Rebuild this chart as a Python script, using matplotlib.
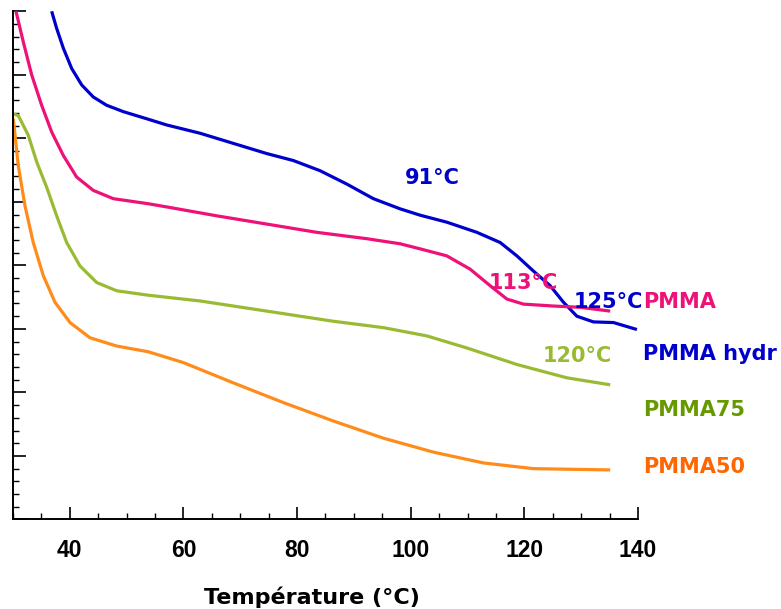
import matplotlib.pyplot as plt
from matplotlib.ticker import MultipleLocator, NullFormatter

# courbes lues en fonction de la température (°C)
t_hydr = [36.81, 37.69, 38.86, 40.33, 42.10, 44.14, 46.50, 49.42, 53.82, 57.06, 62.92,
          68.79, 74.67, 79.35, 84.05, 88.75, 93.43, 98.13, 101.65, 106.35, 111.64,
          115.74, 118.68, 121.60, 124.54, 126.88, 129.24, 132.16, 135.69, 139.81]
y_hydr = [8.00, 7.73, 7.42, 7.10, 6.84, 6.65, 6.52, 6.42, 6.30, 6.21, 6.08,
          5.92, 5.76, 5.65, 5.49, 5.28, 5.05, 4.89, 4.79, 4.68, 4.52,
          4.36, 4.15, 3.91, 3.68, 3.42, 3.20, 3.11, 3.10, 2.99]

t_pmma = [30.53, 31.81, 33.29, 35.05, 36.81, 38.86, 41.21, 44.14, 47.66, 53.82, 57.06,
          65.86, 74.67, 83.47, 92.27, 98.13, 101.65, 106.35, 110.46, 113.98, 116.92,
          119.84, 125.12, 129.82, 135.11]
y_pmma = [8.00, 7.52, 7.00, 6.52, 6.10, 5.73, 5.39, 5.18, 5.05, 4.97, 4.92,
          4.78, 4.65, 4.52, 4.42, 4.34, 4.26, 4.15, 3.94, 3.68, 3.47,
          3.39, 3.36, 3.34, 3.28]

t_p75 = [29.80, 30.93, 32.69, 34.17, 35.93, 37.69, 39.45, 41.80, 44.74, 48.26, 53.82,
         62.92, 74.67, 86.39, 95.19, 102.83, 109.88, 118.68, 127.48, 135.11]
y_p75 = [6.39, 6.36, 6.05, 5.63, 5.23, 4.78, 4.36, 3.99, 3.73, 3.60, 3.53,
         3.44, 3.28, 3.12, 3.02, 2.89, 2.70, 2.44, 2.23, 2.12]

t_p50 = [30.05, 30.18, 30.93, 32.11, 33.57, 35.33, 37.39, 40.04, 43.56, 48.26, 53.82,
         59.98, 68.79, 77.59, 86.39, 95.19, 103.99, 112.80, 121.60, 135.11]
y_p50 = [6.31, 6.21, 5.57, 4.94, 4.36, 3.84, 3.42, 3.10, 2.86, 2.73, 2.64,
         2.47, 2.15, 1.84, 1.55, 1.28, 1.06, 0.89, 0.80, 0.78]

# transitions vitreuses annotées
tg_labels = ["91°C", "113°C", "125°C", "120°C"]
tg_pos = [(103.8, 5.37), (119.8, 3.72), (134.8, 3.42), (129.3, 2.58)]

names = ["PMMA", "PMMA hydr", "PMMA75", "PMMA50"]
name_y = [3.42, 2.61, 1.72, 0.82]

c_blue = "#0000cc"
c_pink = "#ee1177"
c_green = "#99bb33"
c_orange = "#ff8c1a"

fig = plt.figure(figsize=(7.81, 6.09), dpi=100)
ax = fig.add_axes([0.0166, 0.1470, 0.8003, 0.8345])

lw = 2.3
for t, y, c in [(t_hydr, y_hydr, c_blue), (t_pmma, y_pmma, c_pink),
                (t_p75, y_p75, c_green), (t_p50, y_p50, c_orange)]:
    ax.plot(t, y, color=c, lw=lw, solid_capstyle="butt", solid_joinstyle="round")

ax.set_xlim(30, 140)
ax.set_ylim(0, 8)
ax.spines["top"].set_visible(False)
ax.spines["right"].set_visible(False)
for s in ("left", "bottom"):
    ax.spines[s].set_linewidth(1.4)

ax.set_xticks([40, 60, 80, 100, 120, 140])
ax.xaxis.set_minor_locator(MultipleLocator(5))
ax.yaxis.set_major_locator(MultipleLocator(1))
ax.yaxis.set_minor_locator(MultipleLocator(0.2))
ax.yaxis.set_major_formatter(NullFormatter())
ax.tick_params(which="major", direction="in", length=9, width=1.2)
ax.tick_params(which="minor", direction="in", length=4.5, width=1.0)
ax.tick_params(axis="x", which="major", pad=14)

for lab in ax.get_xticklabels():
    lab.set_family("Liberation Sans")
    lab.set_fontweight("bold")
    lab.set_fontsize(16.5)

ax.set_xlabel("Température (°C)", fontweight="bold", fontsize=16)
ax.xaxis.label.set_va("center")
ax.xaxis.set_label_coords(0.478, -0.154)

tg_colors = [c_blue, c_pink, c_blue, c_green]
for txt, (tx, ty), col in zip(tg_labels, tg_pos, tg_colors):
    ax.text(tx, ty, txt, color=col, fontsize=15, fontweight="bold",
            ha="center", va="center", clip_on=False)

name_colors = [c_pink, c_blue, "#669900", "#ff6600"]
for txt, ny, col in zip(names, name_y, name_colors):
    ax.text(140.9, ny, txt, color=col, fontsize=15, fontweight="bold",
            ha="left", va="center", clip_on=False)

fig.savefig("out.png", dpi=100)
